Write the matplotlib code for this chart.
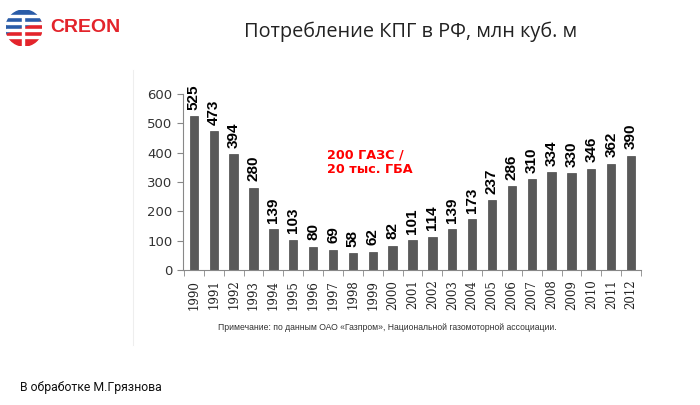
import matplotlib.pyplot as plt
import matplotlib.patches as patches

# Data
years = [str(y) for y in range(1990, 2013)]
values = [525, 473, 394, 280, 139, 103, 80, 69, 58, 62, 82, 101, 114, 139, 173,
          237, 286, 310, 334, 330, 346, 362, 390]
y_ticks = [0, 100, 200, 300, 400, 500, 600]

title = "Потребление КПГ в РФ, млн куб. м"
note = "Примечание: по данным ОАО «Газпром», Национальной газомоторной ассоциации."
callout = "200 ГАЗС /\n20 тыс. ГБА"
credit = "В обработке М.Грязнова"

W, H = 700, 405
fig = plt.figure(figsize=(7, 4.05), dpi=100)
fig.patch.set_facecolor("white")

# Chart axes
ax = fig.add_axes([183 / W, 1 - 270 / H, (641 - 183) / W, (270 - 94) / H])
x = list(range(len(years)))
ax.bar(x, values, width=0.42, color="#595959", edgecolor="#4a4a4a", linewidth=0.5)
for xi, v in zip(x, values):
    ax.text(xi, v + 22, str(v), rotation=90, ha="center", va="bottom",
            fontsize=11, fontweight="bold", color="black", clip_on=False,
            family="Liberation Sans")

ax.set_xlim(-0.55, len(years) - 0.55)
ax.set_ylim(0, 600)
ax.set_yticks(y_ticks)
ax.tick_params(axis="y", labelsize=9.5, labelcolor="#333333", color="#888888",
               length=4, direction="out")
ax.set_xticks(x)
ax.set_xticklabels(years, rotation=90, fontsize=8.5, color="#222222",
                   family="DejaVu Serif")
ax.set_xticks([i - 0.5 for i in range(len(years) + 1)], minor=True)
ax.tick_params(axis="x", which="major", length=0, pad=7)
ax.tick_params(axis="x", which="minor", length=4, color="#888888")
for s in ["top", "right"]:
    ax.spines[s].set_visible(False)
for s in ["left", "bottom"]:
    ax.spines[s].set_color("#888888")

# Callout
fig.text(327 / W, 1 - 162 / H, callout, color="#ff0000", fontsize=9.2,
         fontweight="bold", ha="left", va="center", linespacing=1.15)

# Title
fig.text(411 / W, 1 - 32 / H, title, fontsize=14.3, ha="center", va="center",
         color="#222222", family="Open Sans")

# Note and credit
fig.text(387 / W, 1 - 327 / H, note, fontsize=6.2, ha="center", va="center",
         color="#333333", family="Liberation Sans")
fig.text(20 / W, 1 - 388 / H, credit, fontsize=8.8, ha="left", va="center",
         color="#111111", family="Roboto")

# Faint frame line at the left of the chart area
fig.add_artist(plt.Line2D([133 / W, 133 / W], [1 - 345 / H, 1 - 70 / H],
                          color="#eeeeee", lw=0.8))

# Logo
cx, cy, r = 24, 28, 18
logo = fig.add_axes([(cx - r) / W, 1 - (cy + r) / H, 2 * r / W, 2 * r / H])
logo.set_xlim(-1, 1)
logo.set_ylim(-1, 1)
logo.axis("off")
logo.add_patch(patches.Wedge((0, 0), 1, 20, 200, color="#2a5ca8"))
logo.add_patch(patches.Wedge((0, 0), 1, 200, 380, color="#e3242b"))
for yy in [-0.55, -0.15, 0.25, 0.6]:
    logo.add_patch(patches.Rectangle((-1, yy), 2, 0.1, color="white"))
logo.add_patch(patches.Rectangle((-0.1, -1), 0.12, 1.6, color="white"))
fig.text(50 / W, 1 - 27 / H, "CREON", color="#e3242b", fontsize=14,
         fontweight="bold", ha="left", va="center", family="Liberation Sans")

fig.savefig("out.png", dpi=100, facecolor="white")
